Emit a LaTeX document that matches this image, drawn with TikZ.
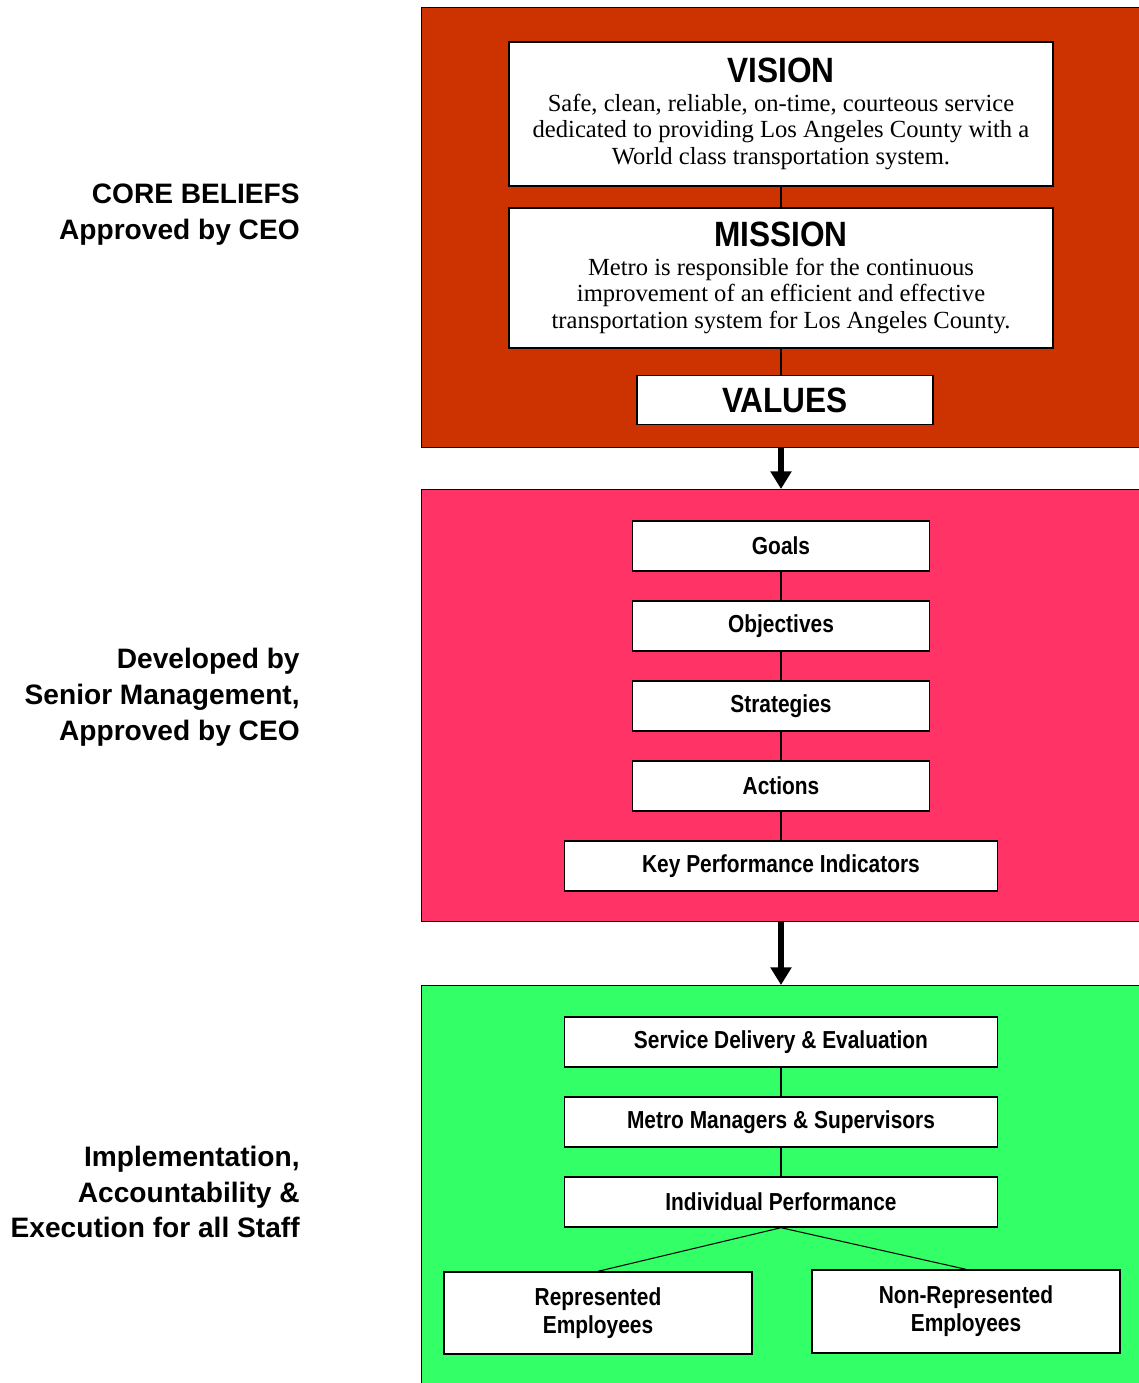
\documentclass[tikz,border=0pt]{standalone}
\usepackage{fontspec}
\setmainfont{Liberation Serif}
\newfontfamily\boxfont[FakeStretch=0.85]{Liberation Sans}
\newfontfamily\titlefont[FakeStretch=0.9]{Liberation Sans}
\newfontfamily\sidefont{Liberation Sans}
\usetikzlibrary{arrows.meta}
\definecolor{coreRed}{HTML}{CC3300}
\definecolor{devPink}{HTML}{FF3366}
\definecolor{implGreen}{HTML}{33FF66}

\begin{document}
\begin{tikzpicture}[x=0.02cm,y=-0.02cm]
        \tikzstyle{panel}=[draw=black,line width=0.8pt,anchor=north west,inner sep=0pt,minimum width=14.48cm]
        \tikzstyle{stepbox}=[draw=black,fill=white,line width=0.8pt,inner sep=0pt,align=center,
                font=\boxfont\bfseries\fontsize{14pt}{16pt}\selectfont]
        \tikzstyle{textbox}=[draw=black,fill=white,line width=0.8pt,inner sep=0pt,align=center,
                minimum width=10.88cm,font=\fontsize{14pt}{15.3pt}\selectfont]
        \tikzstyle{side}=[anchor=east,align=right,inner sep=0pt,
                font=\sidefont\bfseries\fontsize{16pt}{20.4pt}\selectfont]
        \tikzstyle{link}=[draw=black,line width=0.6pt]
        \tikzstyle{bigarrow}=[draw=black,line width=3.4pt,-{Triangle[width=11.5pt,length=10pt]}]
        \newcommand{\boxtitle}[1]{{\titlefont\bfseries\fontsize{20pt}{24pt}\selectfont #1}}

        \useasboundingbox (0,0) rectangle (1139,1383);

        % the three coloured panels
        \node[panel,fill=coreRed,minimum height=8.8cm] (core) at (421,7) {};
        \node[panel,fill=devPink,minimum height=8.64cm] (dev) at (421,489) {};
        \node[panel,fill=implGreen,minimum height=8.2cm] (impl) at (421,985) {};

        % core beliefs
        \node[textbox,minimum height=2.88cm] (vision) at (781,114)
                {\boxtitle{VISION}\\[1pt]
                 Safe, clean, reliable, on-time, courteous service\\
                 dedicated to providing Los Angeles County with a\\
                 World class transportation system.};
        \node[textbox,minimum height=2.8cm] (mission) at (781,278)
                {\boxtitle{MISSION}\\[1pt]
                 Metro is responsible for the continuous\\
                 improvement of an efficient and effective\\
                 transportation system for Los Angeles County.};
        \node[stepbox,minimum width=5.92cm,minimum height=0.98cm] (values) at (785,400)
                {\boxtitle{VALUES}};
        \draw[link] (vision) -- (mission);
        \draw[link] (mission.south) -- (mission.south |- values.north);

        % senior management steps
        \foreach \name/\txt/\y in {goals/Goals/546, objectives/Objectives/626, strategies/Strategies/706, actions/Actions/786}
                \node[stepbox,minimum width=5.94cm,minimum height=1cm] (\name) at (781,\y) {\txt};
        \node[stepbox,minimum width=8.66cm,minimum height=1cm] (kpi) at (781,866) {Key Performance Indicators};

        \foreach \from/\to in {goals/objectives, objectives/strategies, strategies/actions, actions/kpi}
                \draw[link] (\from) -- (\to);

        % implementation steps
        \foreach \name/\txt/\y in {service/Service Delivery \& Evaluation/1042, managers/Metro Managers \& Supervisors/1122, individual/Individual Performance/1202}
                \node[stepbox,minimum width=8.66cm,minimum height=1cm] (\name) at (781,\y) {\txt};
        \node[stepbox,minimum width=6.16cm,minimum height=1.64cm] (rep) at (598,1313) {Represented\\Employees};
        \node[stepbox,minimum width=6.16cm,minimum height=1.66cm] (nonrep) at (966,1311.5) {Non-Represented\\Employees};

        \foreach \from/\to in {service/managers, managers/individual}
                \draw[link] (\from) -- (\to);
        \draw[link] (individual.south) -- (rep.north);
        \draw[link] (individual.south) -- (nonrep.north);

        % arrows between panels
        \draw[bigarrow] (core.south -| vision) -- (dev.north -| vision);
        \draw[bigarrow] (dev.south -| vision) -- (impl.north -| vision);

        % side labels
        \node[side] (corelabel) at (300,215) {CORE BELIEFS\\Approved by CEO};
        \node[side] (devlabel) at (300,697) {Developed by\\Senior Management,\\Approved by CEO};
        \node[side] (impllabel) at (300,1192) {Implementation,\\Accountability \&\\Execution for all Staff};
\end{tikzpicture}
\end{document}
